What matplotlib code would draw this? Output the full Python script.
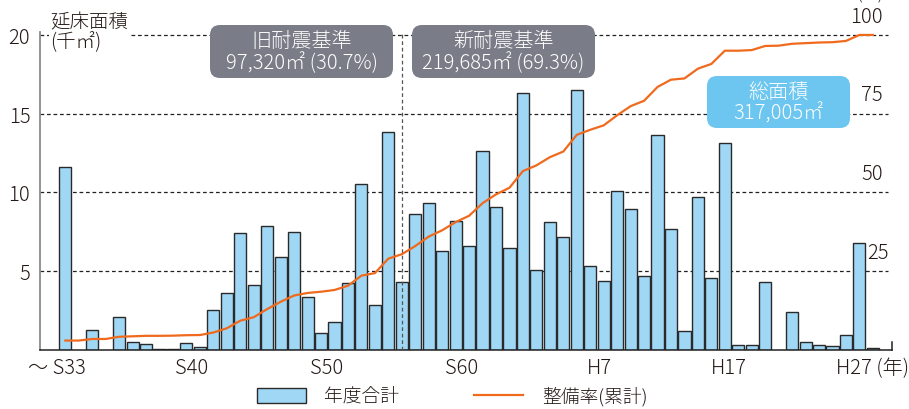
import matplotlib
matplotlib.use('Agg')
import matplotlib.pyplot as plt
from matplotlib.patches import FancyBboxPatch, Patch
from matplotlib.lines import Line2D
import numpy as np

plt.rcParams['font.family'] = ['Noto Sans CJK JP', 'DejaVu Sans']
plt.rcParams['font.weight'] = 'light'

# 年度合計 (千㎡) per fiscal-year slot, first slot = 〜S33
area = [11.6, 0, 1.27, 0, 2.12, 0.49, 0.38, 0.06, 0.06, 0.42,
        0.18, 2.52, 3.6, 7.43, 4.15, 7.85, 5.88, 7.49, 3.34, 1.06,
        1.8, 4.25, 10.54, 2.83, 13.82, 4.34, 8.61, 9.31, 6.31, 8.19,
        6.62, 12.63, 9.06, 6.48, 16.32, 5.1, 8.15, 7.15, 16.49, 5.35,
        4.4, 10.07, 8.95, 4.72, 13.65, 7.68, 1.23, 9.69, 4.55, 13.12,
        0.34, 0.34, 4.34, 0, 2.39, 0.49, 0.34, 0.27, 0.95, 6.79, 0.15]

# 整備率 (累計, %)
rate = [3.0, 3.0, 3.5, 3.5, 4.2, 4.35, 4.5, 4.5, 4.55, 4.7,
        4.75, 5.55, 6.9, 9.3, 10.4, 13.0, 15.3, 17.3, 18.1, 18.5,
        19.05, 20.4, 23.6, 24.4, 29.0, 30.4, 33.0, 36.0, 38.0, 40.6,
        42.6, 46.6, 49.4, 51.5, 56.8, 58.6, 61.2, 63.0, 68.3, 69.9,
        71.3, 74.5, 77.4, 79.1, 83.5, 85.8, 86.2, 89.3, 90.8, 95.0,
        95.0, 95.2, 96.5, 96.6, 97.2, 97.4, 97.6, 97.7, 98.1, 100, 100]

tick_pos = [-0.6, 9.4, 19.4, 29.45, 39.7, 49.3, 60.0]
tick_labels = ['〜 S33', 'S40', 'S50', 'S60', 'H7', 'H17', 'H27 (年)']

left_ticks = [5, 10, 15, 20]
right_ticks = [25, 50, 75, 100]

old_label = '旧耐震基準\n97,320㎡ (30.7%)'
new_label = '新耐震基準\n219,685㎡ (69.3%)'
total_label = '総面積\n317,005㎡'
border_slot = 25

txt = '#231815'
bar_fc = '#9fd7f5'
line_c = '#f06a1e'

fig = plt.figure(figsize=(9.09, 4.10), dpi=100)
ax = fig.add_axes([40 / 909, 1 - 351 / 410, 852 / 909, 318.2 / 410])

x = np.arange(len(area))
h = np.array(area, dtype=float)
m = h > 0
ax.bar(x[m], h[m], width=0.9, color=bar_fc, edgecolor='#2a2a2a', linewidth=1.0, zorder=2)

ax.set_xlim(-1.88, 61.42)
ax.set_ylim(0, 20.2)

ax.hlines(left_ticks, -1.88, 61.1, colors='#222222', linestyles=(0, (3, 2.2)), linewidth=0.9, zorder=1)
ax.axvline(border_slot, color='#555555', linestyle=(0, (3, 2.2)), linewidth=0.9, zorder=3)

ax.set_yticks(left_ticks)
ax.set_yticklabels([str(t) for t in left_ticks], fontsize=14.5, color=txt)
ax.set_xticks(tick_pos)
ax.set_xticklabels(tick_labels, fontsize=14.5, color=txt)
ax.tick_params(axis='both', length=0)
ax.tick_params(axis='y', pad=7)
ax.tick_params(axis='x', pad=5)

ax.spines['top'].set_visible(False)
ax.spines['left'].set_color('#8a8a8a')
ax.spines['left'].set_linewidth(1.3)
ax.spines['bottom'].set_color('#222222')
ax.spines['bottom'].set_linewidth(1.1)
ax.spines['right'].set_color('#222222')
ax.spines['right'].set_linewidth(1.1)
ax.spines['right'].set_bounds(0, 0.5)

ax2 = ax.twinx()
ax2.set_ylim(0, 101)
ax2.plot(x, rate, color=line_c, linewidth=1.6, zorder=4)
ax2.set_yticks([])
for s in ax2.spines.values():
    s.set_visible(False)

for t in right_ticks:
    xr = 0.996 if t == 25 else 0.989
    ax2.annotate(str(t), xy=(xr, t), xycoords=('axes fraction', 'data'),
                 xytext=(0, 6), textcoords='offset points',
                 ha='right', va='bottom', fontsize=14.5, color=txt)

fig.text(870 / 909, 0.992, '(%)', ha='center', va='bottom', fontsize=13, color=txt)

fig.text(50 / 909, 1 - 53 / 410, '延床面積\n(千㎡)', ha='left', va='bottom', fontsize=14,
         color=txt, linespacing=0.92,
         bbox=dict(facecolor='white', edgecolor='none', pad=0.5))


def label_box(x0, y0, x1, y1, color, text):
    box = FancyBboxPatch((x0 / 100, (410 - y1) / 100), (x1 - x0) / 100, (y1 - y0) / 100,
                         boxstyle='round,pad=0,rounding_size=0.1',
                         transform=fig.dpi_scale_trans, facecolor=color,
                         edgecolor='none', zorder=5)
    fig.add_artist(box)
    fig.text((x0 + x1) / 2 / 909, 1 - (y0 + y1) / 2 / 410, text, ha='center', va='center',
             fontsize=14.5, color='white', linespacing=1.0, zorder=6)


label_box(210, 26, 393, 79, '#7a7d87', old_label)
label_box(412, 26, 595, 79, '#7a7d87', new_label)
label_box(707, 77, 850, 129, '#6cc6f0', total_label)

handles = [Patch(facecolor=bar_fc, edgecolor='#2a2a2a', linewidth=1.0),
           Line2D([0], [0], color=line_c, linewidth=1.6)]
fig.legend(handles, ['年度合計', '整備率(累計)'], ncol=2, loc='center',
           bbox_to_anchor=(452 / 909, 1 - 397 / 410), frameon=False, fontsize=13.5,
           handlelength=2.6, handleheight=0.85, handletextpad=1.0, columnspacing=4.0,
           labelcolor=txt)

plt.savefig('out.png', dpi=100)
